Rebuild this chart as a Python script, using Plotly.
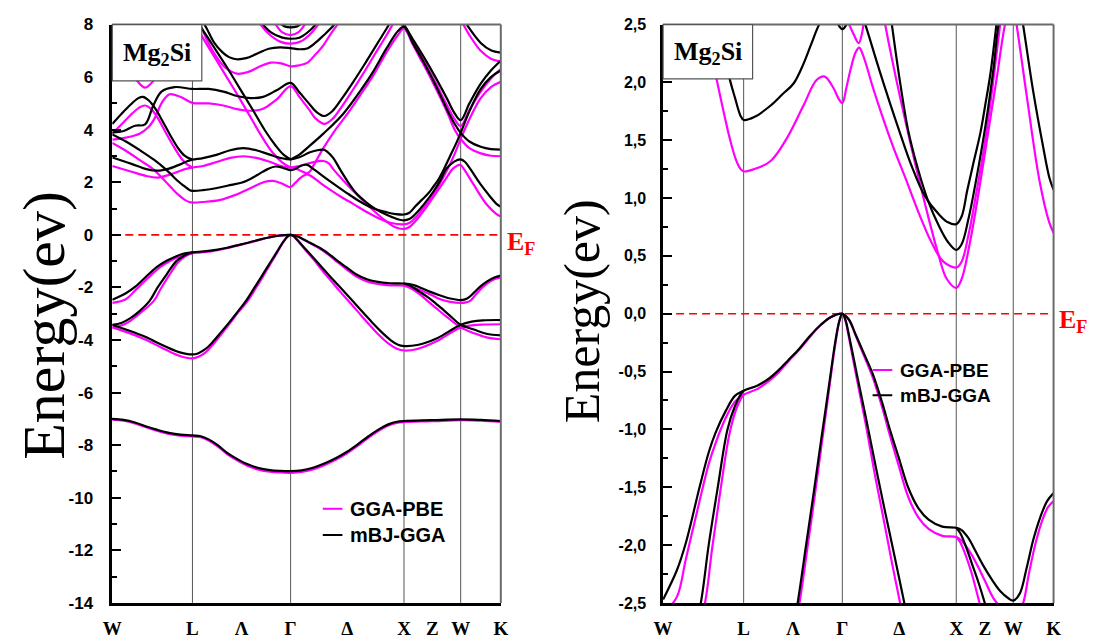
import plotly.graph_objects as go

FIG_W, FIG_H = 1096, 643
MAGENTA = "#FF00FF"
BLACK = "#000000"

# ---- path through the fcc Brillouin zone (units of 2*pi/a) ----
K_END = 3.427
sym_lines_k = [0.707, 1.573, 2.573, 3.073]          # L, Γ, X, W
label_k = [0.0, 0.707, 1.140, 1.573, 2.073, 2.573, 2.823, 3.073, 3.427]
label_text = ["W", "L", "Λ", "Γ", "Δ", "X", "Z", "W", "K"]

# ---- GGA-PBE bands: (k, E in eV) ----
pbe_valence = [
    [(0, -7.03), (0.10, -7.07), (0.20, -7.17), (0.30, -7.32), (0.40, -7.46), (0.50, -7.57), (0.60, -7.64),
     (0.707, -7.67), (0.78, -7.70), (0.85, -7.82), (0.93, -8.05), (1.01, -8.33), (1.10, -8.58), (1.19, -8.78),
     (1.29, -8.93), (1.39, -9.01), (1.48, -9.04), (1.573, -9.05), (1.67, -9.02), (1.77, -8.92), (1.87, -8.76),
     (1.97, -8.56), (2.07, -8.31), (2.17, -8.01), (2.26, -7.71), (2.35, -7.45), (2.44, -7.24), (2.51, -7.15),
     (2.573, -7.12), (2.82, -7.09), (3.073, -7.05), (3.25, -7.07), (3.427, -7.11)],
    [(0, -2.59), (0.12, -2.45), (0.2, -2.12), (0.32, -1.62), (0.40, -1.30), (0.46, -1.12), (0.55, -0.90),
     (0.63, -0.76), (0.707, -0.70), (0.83, -0.65), (0.93, -0.58), (1.012, -0.51), (1.10, -0.41), (1.197, -0.31),
     (1.29, -0.20), (1.38, -0.10), (1.47, -0.03), (1.573, 0), (1.63, -0.05), (1.69, -0.19), (1.77, -0.38),
     (1.84, -0.55), (1.92, -0.80), (1.99, -1.05), (2.07, -1.32), (2.15, -1.58), (2.24, -1.76), (2.33, -1.86),
     (2.45, -1.92), (2.573, -1.93), (2.62, -1.96), (2.68, -2.04), (2.75, -2.16), (2.82, -2.30), (2.90, -2.46),
     (2.98, -2.55), (3.073, -2.59), (3.12, -2.57), (3.16, -2.50), (3.21, -2.25), (3.27, -1.98), (3.33, -1.78),
     (3.38, -1.67), (3.427, -1.62)],
    [(0, -3.52), (0.08, -3.45), (0.16, -3.27), (0.24, -3.0), (0.368, -2.5), (0.43, -2.03), (0.50, -1.55),
     (0.58, -1.05), (0.64, -0.83), (0.685, -0.73), (0.707, -0.70)],
    [(2.573, -1.93), (2.61, -1.98), (2.66, -2.10), (2.71, -2.25), (2.777, -2.5), (2.86, -2.80), (2.95, -3.12),
     (3.073, -3.52), (3.19, -3.74), (3.30, -3.90), (3.427, -3.97)],
    [(0, -3.52), (0.14, -3.72), (0.29, -3.98), (0.44, -4.30), (0.59, -4.60), (0.707, -4.70), (0.76, -4.64),
     (0.82, -4.48), (0.887, -4.18), (0.96, -3.79), (1.037, -3.37), (1.11, -2.95), (1.197, -2.5), (1.27, -2.0),
     (1.33, -1.58), (1.39, -1.14), (1.44, -0.78), (1.48, -0.48), (1.515, -0.24), (1.548, -0.06), (1.573, 0),
     (1.60, -0.06), (1.63, -0.20), (1.70, -0.56), (1.78, -0.96), (1.86, -1.40), (1.94, -1.80), (2.01, -2.16),
     (2.08, -2.5), (2.17, -2.94), (2.26, -3.38), (2.35, -3.80), (2.44, -4.15), (2.51, -4.33), (2.573, -4.40),
     (2.69, -4.34), (2.86, -4.05), (3.073, -3.52), (3.17, -3.44), (3.27, -3.41), (3.427, -3.40)],
]

pbe_conduction = [
    [(0, 3.5), (0.12, 3.2), (0.25, 2.82), (0.36, 2.5), (0.469, 2.03), (0.53, 1.75), (0.584, 1.52), (0.64, 1.33),
     (0.68, 1.25), (0.707, 1.23), (0.80, 1.25), (0.944, 1.32), (1.088, 1.52), (1.232, 1.80), (1.347, 2.02),
     (1.418, 2.05), (1.49, 1.96), (1.54, 1.86), (1.573, 1.82), (1.61, 1.96), (1.65, 2.13), (1.69, 2.26),
     (1.721, 2.30), (1.76, 2.22), (1.84, 1.96), (1.923, 1.71), (2.02, 1.44), (2.124, 1.18), (2.24, 0.88),
     (2.354, 0.62), (2.46, 0.45), (2.573, 0.40), (2.62, 0.45), (2.68, 0.68), (2.75, 1.05), (2.82, 1.45),
     (2.89, 1.95), (2.958, 2.50), (3.02, 3.08), (3.073, 3.65), (3.15, 4.4), (3.25, 5.2), (3.34, 5.62),
     (3.427, 5.82)],
    [(0, 2.62), (0.17, 2.40), (0.30, 2.24), (0.40, 2.18), (0.50, 2.28), (0.60, 2.44), (0.66, 2.52), (0.707, 2.56),
     (0.80, 2.62), (0.926, 2.78), (1.04, 2.93), (1.157, 2.99), (1.27, 2.93), (1.388, 2.78), (1.49, 2.62),
     (1.573, 2.56), (1.65, 2.62), (1.75, 2.74), (1.862, 2.81), (1.91, 2.72), (1.951, 2.49), (2.066, 1.935),
     (2.181, 1.43), (2.296, 0.96), (2.411, 0.53), (2.49, 0.30), (2.573, 0.224), (2.62, 0.30), (2.69, 0.60),
     (2.77, 1.05), (2.85, 1.55), (2.93, 2.05), (3.001, 2.50), (3.04, 2.63), (3.073, 2.66), (3.102, 2.50),
     (3.188, 1.907), (3.303, 1.152), (3.389, 0.79), (3.427, 0.70)],
    [(0, 3.85), (0.08, 4.2), (0.16, 4.55), (0.24, 4.85), (0.29, 4.92), (0.34, 4.8), (0.40, 4.45), (0.47, 3.9),
     (0.55, 3.3), (0.62, 2.85), (0.67, 2.65), (0.707, 2.56)],
    [(1.573, 2.56), (1.62, 2.52), (1.67, 2.42), (1.717, 2.34), (1.745, 2.42), (1.78, 2.68), (1.862, 3.30),
     (1.96, 3.95), (2.065, 4.55), (2.2, 5.4), (2.3, 6.05), (2.42, 6.95), (2.52, 7.6), (2.573, 7.85), (2.65, 7.25),
     (2.73, 6.6), (2.81, 5.95), (2.89, 5.25), (2.96, 4.6), (3.02, 4.0), (3.073, 3.65), (3.15, 3.3), (3.25, 3.1),
     (3.34, 3.01), (3.427, 2.99)],
    [(0, 3.62), (0.12, 3.7), (0.24, 3.85), (0.32, 4.1), (0.376, 4.45), (0.44, 5.05), (0.506, 5.35), (0.60, 5.25),
     (0.707, 5.02), (0.85, 5.0), (0.98, 4.92), (1.10, 4.78), (1.22, 4.72), (1.33, 4.8), (1.45, 5.15),
     (1.573, 5.66), (1.65, 5.25), (1.73, 4.80), (1.80, 4.40), (1.87, 4.22), (1.94, 4.40), (2.02, 4.85),
     (2.12, 5.50), (2.22, 6.18), (2.32, 6.9), (2.42, 7.6), (2.48, 8.05), (2.52, 8.3)],
    [(0.70, 8.2), (0.72, 8.05), (0.84, 7.2), (0.96, 6.35), (1.08, 5.5), (1.20, 4.62), (1.31, 3.8), (1.41, 3.15),
     (1.50, 2.75), (1.573, 2.56)],
    [(0.76, 8.2), (0.80, 7.75), (0.86, 7.2), (0.93, 6.7), (1.00, 6.35), (1.10, 6.13), (1.20, 6.2), (1.30, 6.40),
     (1.40, 6.55), (1.49, 6.52), (1.573, 6.41), (1.65, 6.45), (1.718, 6.54), (1.79, 6.85), (1.862, 7.21),
     (1.92, 7.6), (1.978, 7.95), (2.02, 8.2)],
    [(1.28, 8.15), (1.38, 7.65), (1.48, 7.35), (1.573, 7.27), (1.66, 7.35), (1.76, 7.7), (1.84, 8.15)],
    [(1.42, 8.15), (1.50, 7.7), (1.573, 7.6), (1.64, 7.7), (1.72, 8.15)],
    [(2.47, 8.5), (2.53, 8.1), (2.573, 7.90), (2.65, 7.35), (2.75, 6.6), (2.85, 5.8), (2.95, 4.95), (3.02, 4.4),
     (3.073, 4.14), (3.15, 4.75), (3.25, 5.45), (3.34, 5.95), (3.427, 6.31)],
    [(3.073, 8.2), (3.15, 7.6), (3.25, 7.0), (3.34, 6.7), (3.427, 6.6)],
    [(0.0, 7.3), (0.12, 6.5), (0.22, 5.85), (0.29, 5.6), (0.36, 5.85), (0.48, 6.7), (0.60, 7.5), (0.707, 7.9)],
]

# ---- mBJ-GGA bands: (k, E in eV) ----
mbj_valence = [
    [(0, -7.00), (0.10, -7.04), (0.20, -7.14), (0.30, -7.29), (0.40, -7.42), (0.50, -7.53), (0.60, -7.60),
     (0.707, -7.63), (0.78, -7.66), (0.85, -7.78), (0.93, -8.0), (1.01, -8.28), (1.10, -8.52), (1.19, -8.72),
     (1.29, -8.87), (1.39, -8.95), (1.48, -8.98), (1.573, -8.99), (1.67, -8.96), (1.77, -8.86), (1.87, -8.70),
     (1.97, -8.50), (2.07, -8.25), (2.17, -7.95), (2.26, -7.66), (2.35, -7.40), (2.44, -7.20), (2.51, -7.11),
     (2.573, -7.08), (2.82, -7.05), (3.073, -7.02), (3.25, -7.04), (3.427, -7.08)],
    [(0, -2.47), (0.12, -2.22), (0.2, -1.98), (0.32, -1.5), (0.40, -1.2), (0.46, -1.03), (0.55, -0.84),
     (0.63, -0.71), (0.707, -0.665), (0.83, -0.62), (0.93, -0.56), (1.012, -0.49), (1.10, -0.40), (1.197, -0.30),
     (1.29, -0.19), (1.38, -0.10), (1.47, -0.03), (1.573, 0), (1.63, -0.05), (1.69, -0.18), (1.77, -0.36),
     (1.84, -0.52), (1.92, -0.76), (1.99, -1.0), (2.07, -1.25), (2.15, -1.5), (2.24, -1.68), (2.33, -1.78),
     (2.45, -1.84), (2.573, -1.85), (2.62, -1.87), (2.68, -1.94), (2.73, -2.03), (2.80, -2.16), (2.88, -2.29),
     (2.96, -2.40), (3.03, -2.46), (3.073, -2.48), (3.13, -2.42), (3.19, -2.20), (3.25, -1.95), (3.31, -1.76),
     (3.37, -1.62), (3.427, -1.55)],
    [(0, -3.42), (0.08, -3.35), (0.16, -3.17), (0.24, -2.90), (0.331, -2.5), (0.40, -2.0), (0.48, -1.5),
     (0.565, -1.0), (0.63, -0.80), (0.68, -0.70), (0.707, -0.665)],
    [(2.573, -1.85), (2.61, -1.90), (2.66, -2.02), (2.71, -2.16), (2.77, -2.33), (2.823, -2.5), (2.90, -2.78),
     (2.98, -3.08), (3.073, -3.42), (3.19, -3.60), (3.30, -3.76), (3.427, -3.82)],
    [(0, -3.42), (0.14, -3.63), (0.29, -3.88), (0.44, -4.19), (0.588, -4.46), (0.707, -4.55), (0.76, -4.50),
     (0.82, -4.35), (0.887, -4.07), (0.96, -3.70), (1.037, -3.30), (1.11, -2.90), (1.181, -2.5), (1.258, -1.98),
     (1.32, -1.56), (1.38, -1.14), (1.43, -0.80), (1.473, -0.50), (1.51, -0.25), (1.545, -0.07), (1.573, 0),
     (1.60, -0.05), (1.63, -0.18), (1.70, -0.52), (1.78, -0.90), (1.87, -1.34), (1.95, -1.72), (2.03, -2.09),
     (2.117, -2.5), (2.20, -2.90), (2.29, -3.32), (2.38, -3.72), (2.46, -4.02), (2.52, -4.18), (2.573, -4.23),
     (2.69, -4.19), (2.86, -3.94), (3.073, -3.42), (3.17, -3.30), (3.27, -3.25), (3.427, -3.24)],
]

mbj_conduction = [
    [(0, 3.82), (0.12, 3.55), (0.25, 3.2), (0.37, 2.85), (0.47, 2.5), (0.584, 2.03), (0.63, 1.87), (0.68, 1.71),
     (0.707, 1.675), (0.80, 1.70), (0.944, 1.80), (1.05, 1.90), (1.145, 1.99), (1.232, 2.16), (1.30, 2.33),
     (1.37, 2.50), (1.44, 2.60), (1.51, 2.54), (1.573, 2.46), (1.62, 2.52), (1.67, 2.64), (1.72, 2.66),
     (1.778, 2.49), (1.90, 2.10), (2.066, 1.60), (2.18, 1.28), (2.296, 1.02), (2.42, 0.86), (2.50, 0.79),
     (2.573, 0.774), (2.62, 0.84), (2.67, 1.07), (2.73, 1.33), (2.786, 1.57), (2.83, 1.82), (2.872, 2.07),
     (2.924, 2.49), (2.98, 3.0), (3.03, 3.45), (3.073, 3.88), (3.15, 4.7), (3.25, 5.55), (3.34, 6.0),
     (3.427, 6.25)],
    [(0, 2.94), (0.17, 2.70), (0.30, 2.50), (0.40, 2.44), (0.50, 2.52), (0.60, 2.68), (0.66, 2.80), (0.707, 2.86),
     (0.80, 2.92), (0.926, 3.05), (1.04, 3.22), (1.157, 3.30), (1.27, 3.22), (1.388, 3.05), (1.49, 2.92),
     (1.573, 2.87), (1.65, 2.95), (1.75, 3.15), (1.862, 3.24), (1.90, 3.15), (1.95, 2.92), (2.009, 2.49),
     (2.08, 2.0), (2.152, 1.58), (2.24, 1.24), (2.324, 0.98), (2.42, 0.76), (2.50, 0.62), (2.573, 0.551),
     (2.62, 0.60), (2.68, 0.82), (2.75, 1.17), (2.83, 1.63), (2.90, 2.12), (2.944, 2.50), (3.00, 2.74),
     (3.04, 2.84), (3.073, 2.87), (3.11, 2.78), (3.159, 2.50), (3.246, 1.935), (3.332, 1.46), (3.389, 1.18),
     (3.427, 1.07)],
    [(0, 4.22), (0.08, 4.6), (0.16, 4.95), (0.23, 5.2), (0.27, 5.25), (0.32, 5.12), (0.38, 4.8), (0.44, 4.35),
     (0.51, 3.8), (0.58, 3.3), (0.64, 3.0), (0.707, 2.86)],
    [(1.573, 2.87), (1.65, 3.05), (1.718, 3.30), (1.862, 3.85), (2.036, 4.6), (2.2, 5.55), (2.3, 6.2),
     (2.42, 7.1), (2.52, 7.75), (2.573, 7.92), (2.65, 7.3), (2.73, 6.7), (2.81, 6.05), (2.89, 5.35), (2.96, 4.7),
     (3.02, 4.22), (3.073, 3.88), (3.15, 3.55), (3.25, 3.35), (3.34, 3.26), (3.427, 3.24)],
    [(0, 3.90), (0.10, 3.95), (0.20, 4.15), (0.289, 4.2), (0.36, 4.9), (0.434, 5.45), (0.55, 5.62),
     (0.707, 5.55), (0.85, 5.55), (0.98, 5.45), (1.10, 5.28), (1.22, 5.2), (1.33, 5.25), (1.45, 5.5),
     (1.573, 5.78), (1.65, 5.42), (1.73, 5.02), (1.80, 4.68), (1.87, 4.52), (1.94, 4.70), (2.02, 5.15),
     (2.12, 5.78), (2.22, 6.45), (2.32, 7.15), (2.42, 7.85), (2.47, 8.2)],
    [(0.74, 8.2), (0.76, 8.05), (0.88, 7.25), (1.0, 6.45), (1.12, 5.6), (1.24, 4.75), (1.35, 3.95), (1.44, 3.4),
     (1.51, 3.05), (1.573, 2.87)],
    [(0.80, 8.1), (0.834, 7.84), (0.90, 7.30), (0.97, 6.95), (1.03, 6.76), (1.095, 6.68), (1.18, 6.72),
     (1.28, 6.9), (1.38, 7.08), (1.48, 7.13), (1.573, 7.10), (1.65, 7.06), (1.718, 7.09), (1.79, 7.3),
     (1.862, 7.58), (1.949, 7.95), (1.99, 8.2)],
    [(1.30, 8.15), (1.40, 7.7), (1.50, 7.5), (1.573, 7.46), (1.65, 7.5), (1.75, 7.8), (1.82, 8.15)],
    [(1.45, 8.15), (1.52, 7.93), (1.573, 7.89), (1.63, 7.93), (1.70, 8.15)],
    [(2.45, 8.6), (2.52, 8.2), (2.573, 7.98), (2.65, 7.45), (2.75, 6.75), (2.85, 6.0), (2.95, 5.2), (3.02, 4.62),
     (3.073, 4.36), (3.15, 5.0), (3.25, 5.75), (3.34, 6.25), (3.427, 6.62)],
    [(3.073, 8.4), (3.15, 7.85), (3.25, 7.3), (3.34, 7.02), (3.427, 6.93)],
    [(0.0, 7.7), (0.12, 6.95), (0.22, 6.35), (0.29, 6.1), (0.36, 6.35), (0.48, 7.15), (0.60, 7.9), (0.707, 8.3)],
]

# ---- energy ticks ----
left_ticks = [-14, -12, -10, -8, -6, -4, -2, 0, 2, 4, 6, 8]
right_ticks = [-2.5, -2.0, -1.5, -1.0, -0.5, 0.0, 0.5, 1.0, 1.5, 2.0, 2.5]
left_range = [-14, 8]
right_range = [-2.5, 2.5]


def px_x(p):
    return p / FIG_W


def px_y(p):
    return 1 - p / FIG_H


SANS = "Liberation Sans, Arial, sans-serif"
SERIF = "Liberation Serif, Times New Roman, serif"

fig = go.Figure()

panels = [("x", "y"), ("x2", "y2")]
for xa, ya in panels:
    for bands, color in ((pbe_valence + pbe_conduction, MAGENTA), (mbj_valence + mbj_conduction, BLACK)):
        for band in bands:
            fig.add_trace(go.Scatter(
                x=[p[0] for p in band], y=[p[1] for p in band],
                mode="lines", xaxis=xa, yaxis=ya,
                line=dict(color=color, width=2.2, shape="spline", smoothing=1.0),
                showlegend=False, hoverinfo="skip"))

dom_y = [px_y(612), px_y(16)]
xaxis_common = dict(
    range=[0, K_END], tickmode="array", tickvals=label_k, ticktext=label_text, ticks="",
    tickfont=dict(family=SERIF, size=19, color="black", weight="bold"),
    showline=True, linecolor="black", linewidth=2.5, showgrid=False, zeroline=False,
    ticklabelstandoff=7, fixedrange=True)
yaxis_common = dict(
    ticks="inside", ticklen=9, tickwidth=2, tickcolor="black",
    showline=True, linecolor="black", linewidth=2.5, showgrid=False, zeroline=False,
    fixedrange=True)

fig.update_layout(
    width=FIG_W, height=FIG_H, margin=dict(l=0, r=0, t=0, b=0),
    paper_bgcolor="white", plot_bgcolor="white", showlegend=False,
    xaxis=dict(domain=[px_x(104), px_x(499)], anchor="y", **xaxis_common),
    xaxis2=dict(domain=[px_x(664), px_x(1061)], anchor="y2", **xaxis_common),
    yaxis=dict(domain=dom_y, anchor="x", range=left_range, tickmode="array", tickvals=left_ticks,
               ticktext=[f"{v:d}" for v in left_ticks], ticklabelstandoff=13,
               tickfont=dict(family=SANS, size=17, color="black", weight="bold"),
               minor=dict(ticks="inside", ticklen=5, tickwidth=2, tickcolor="black", dtick=1, tick0=0),
               **yaxis_common),
    yaxis2=dict(domain=dom_y, anchor="x2", range=right_range, tickmode="array", tickvals=right_ticks,
                ticktext=[f"{v:.1f}".replace(".", ",") for v in right_ticks], ticklabelstandoff=11,
                tickfont=dict(family=SANS, size=16, color="black", weight="bold"),
                minor=dict(ticks="inside", ticklen=5, tickwidth=2, tickcolor="black", dtick=0.25, tick0=0),
                **yaxis_common),
)

shapes = []
annotations = []
for xa, ya in panels:
    for k in sym_lines_k:
        shapes.append(dict(type="line", xref=xa, yref=f"{ya} domain", x0=k, x1=k, y0=0, y1=1,
                           line=dict(color="#555555", width=1), layer="below"))
    shapes.append(dict(type="line", xref=xa, yref=ya, x0=0, x1=K_END, y0=0, y1=0,
                       line=dict(color="#FF0000", width=1.6, dash="8px,5px"), layer="below"))
    # top and right frame
    shapes.append(dict(type="line", xref=f"{xa} domain", yref=f"{ya} domain", x0=0, x1=1, y0=1, y1=1,
                       line=dict(color="#6a6a6a", width=2), layer="above"))
    shapes.append(dict(type="line", xref=f"{xa} domain", yref=f"{ya} domain", x0=1, x1=1, y0=0, y1=1,
                       line=dict(color="#6a6a6a", width=2), layer="above"))

# compound labels
for bx0, bx1, by0, by1 in ((104, 195, 16, 74), (664, 755, 16, 72)):
    shapes.append(dict(type="rect", xref="paper", yref="paper", x0=px_x(bx0), x1=px_x(bx1),
                       y0=px_y(by1), y1=px_y(by0), fillcolor="white",
                       line=dict(color="#555555", width=1.2), layer="above"))
    annotations.append(dict(xref="paper", yref="paper", x=px_x((bx0 + bx1) / 2), y=px_y((by0 + by1) / 2 + 1),
                            text="Mg<sub>2</sub>Si", showarrow=False, xanchor="center", yanchor="middle",
                            font=dict(family=SERIF, size=26, color="black", weight="bold")))

# Fermi level labels
for ex, ey in ((503, 241), (1064, 321)):
    annotations.append(dict(xref="paper", yref="paper", x=px_x(ex), y=px_y(ey), text="E<sub>F</sub>",
                            showarrow=False, xanchor="left", yanchor="middle",
                            font=dict(family=SERIF, size=26, color="#FF0000", weight="bold")))

# axis titles
annotations.append(dict(xref="paper", yref="paper", x=px_x(35), y=px_y(326), text="Energy(ev)",
                        textangle=-90, showarrow=False, xanchor="center", yanchor="middle",
                        font=dict(family=SERIF, size=60, color="black")))
annotations.append(dict(xref="paper", yref="paper", x=px_x(581), y=px_y(311), text="Energy(ev)",
                        textangle=-90, showarrow=False, xanchor="center", yanchor="middle",
                        font=dict(family=SERIF, size=50, color="black")))

# legends
legend_names = ["GGA-PBE", "mBJ-GGA"]
legend_colors = [MAGENTA, BLACK]
for lx, ly0, dy, fsize in ((318, 515, 27, 20), (877, 372, 26, 19)):
    for i, (name, col) in enumerate(zip(legend_names, legend_colors)):
        yy = ly0 + i * dy
        shapes.append(dict(type="line", xref="paper", yref="paper", x0=px_x(lx), x1=px_x(lx + 20),
                           y0=px_y(yy), y1=px_y(yy), line=dict(color=col, width=2), layer="above"))
        annotations.append(dict(xref="paper", yref="paper", x=px_x(lx + 26), y=px_y(yy), text=name,
                                showarrow=False, xanchor="left", yanchor="middle",
                                font=dict(family=SANS, size=fsize, color="black", weight="bold")))

fig.update_layout(shapes=shapes, annotations=annotations)
fig.write_html("out.html")
